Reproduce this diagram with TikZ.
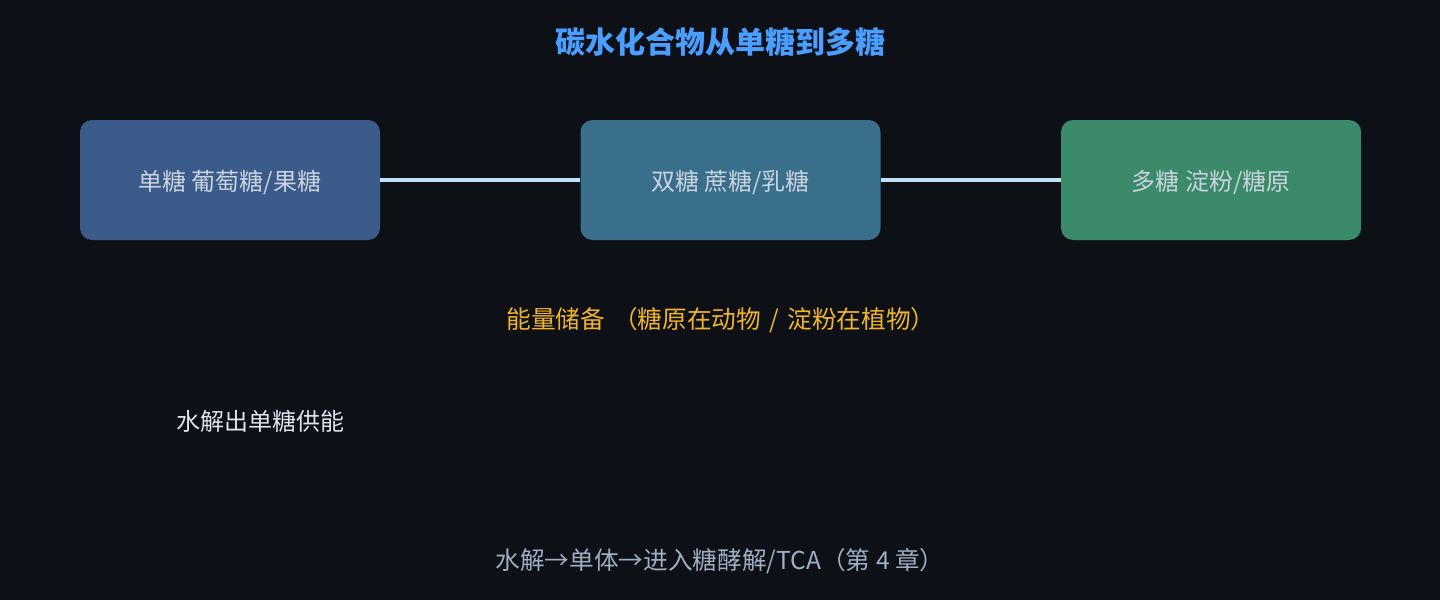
\documentclass[tikz,border=0pt]{standalone}
\usepackage{fontspec}
\setmainfont{Noto Sans CJK SC}
\usetikzlibrary{positioning}
\definecolor{bgdark}{HTML}{0D1017}
\definecolor{monofill}{HTML}{3B5B8A}
\definecolor{difill}{HTML}{3A6F8C}
\definecolor{polyfill}{HTML}{3B8A6A}
\definecolor{boxtext}{HTML}{C9D3DE}
\definecolor{linkblue}{HTML}{BEE3F8}
\definecolor{titleblue}{HTML}{4A9EFF}
\definecolor{noteorange}{HTML}{F0B429}
\definecolor{notelight}{HTML}{DDE4EE}
\definecolor{notegray}{HTML}{A0AEC0}

\begin{document}
\begin{tikzpicture}[x=0.75pt,y=-0.75pt,
  sugar/.style={rectangle,rounded corners=9pt,minimum width=225pt,minimum height=90pt,
    text=boxtext,font=\fontsize{18}{22}\selectfont,text height=16pt,text depth=1pt},
  link/.style={draw=linkblue,line width=3pt},
  note/.style={font=\fontsize{18}{22}\selectfont}]
  \fill[bgdark] (0,0) rectangle (1440,600);
  \useasboundingbox (0,0) rectangle (1440,600);
  \node[font=\fontsize{22.5}{27}\selectfont\bfseries,text=titleblue] (title) at (720,42) {碳水化合物从单糖到多糖};
  \node[sugar,fill=monofill] (mono) at (230,180) {单糖 葡萄糖/果糖};
  \node[sugar,fill=difill] [right=150pt of mono] (di) {双糖 蔗糖/乳糖};
  \node[sugar,fill=polyfill] [right=135pt of di] (poly) {多糖 淀粉/糖原};
  \path[link]
    (mono) edge (di)
    (di) edge (poly);
  \node[note,text=noteorange,font=\fontsize{18.5}{22}\selectfont] (store) at (721,320) {能量储备\hspace{6pt}（糖原在动物\hspace{2pt} / \hspace{2pt}淀粉在植物）};
  \node[note,text=notelight] (hydro) at (260,421) {水解出单糖供能};
  \node[note,text=notegray,font=\fontsize{18.5}{22}\selectfont] (path) at (720,561) {水解→单体→进入糖酵解/TCA（第 4 章）};
\end{tikzpicture}
\end{document}
